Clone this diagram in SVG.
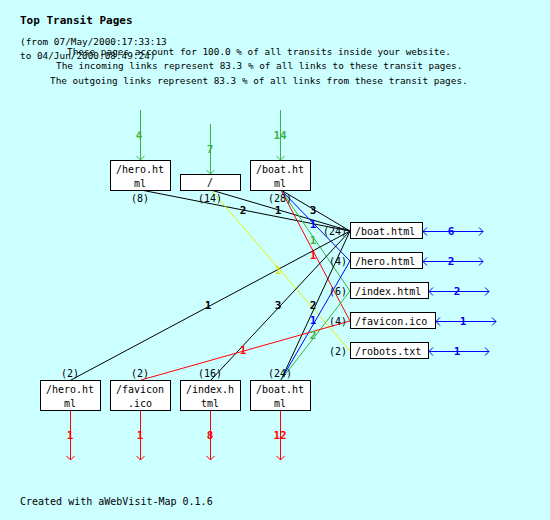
<svg xmlns="http://www.w3.org/2000/svg" width="550" height="520" viewBox="0 0 550 520">
<style>
text{font-family:"DejaVu Sans Mono","Liberation Mono",monospace;font-size:10px;fill:#000}
.hdr{font-size:9.4px}
.title{font-size:11px;font-weight:bold}
.lab{font-size:11px;font-weight:bold;text-anchor:middle}
.c{text-anchor:middle}
.e{text-anchor:end}
.box{fill:#fff;stroke:#000;stroke-width:1}
.ln{fill:none;stroke-width:1}
.k{stroke:#000}.b{stroke:#0000ff}.g{stroke:#3cb43c}.r{stroke:#ff0000}.y{stroke:#eeee00}
.tk{fill:#000}.tb{fill:#0000ff}.tg{fill:#3cb43c}.tr{fill:#ff0000}.ty{fill:#e6e600}
</style>
<defs>
<marker id="mg" markerUnits="userSpaceOnUse" markerWidth="10" markerHeight="10" viewBox="0 0 10 10" refX="5" refY="5" orient="auto-start-reverse"><path d="M1,1 L5,5 L1,9" fill="none" stroke="#3cb43c" stroke-width="1"/></marker>
<marker id="mr" markerUnits="userSpaceOnUse" markerWidth="10" markerHeight="10" viewBox="0 0 10 10" refX="5" refY="5" orient="auto-start-reverse"><path d="M1,1 L5,5 L1,9" fill="none" stroke="#ff0000" stroke-width="1"/></marker>
<marker id="mb" markerUnits="userSpaceOnUse" markerWidth="10" markerHeight="10" viewBox="0 0 10 10" refX="5" refY="5" orient="auto-start-reverse"><path d="M1,1 L5,5 L1,9" fill="none" stroke="#0000ff" stroke-width="1"/></marker>
</defs>
<rect x="0" y="0" width="550" height="520" fill="#ccffff"/>
<g id="header">
<text class="title" x="20" y="24">Top Transit Pages</text>
<text class="hdr" x="20" y="45">(from 07/May/2000:17:33:13</text>
<text class="hdr" x="20" y="59">to 04/Jun/2000:08:49:24)</text>
<text class="hdr" x="67" y="55">These pages account for 100.0 % of all transits inside your website.</text>
<text class="hdr" x="56" y="69">The incoming links represent 83.3 % of all links to these transit pages.</text>
<text class="hdr" x="50" y="84">The outgoing links represent 83.3 % of all links from these transit pages.</text>
</g>
<g id="connectors">
<!-- incoming from outside -->
<line class="ln g" x1="140.5" y1="110" x2="140.5" y2="160" marker-end="url(#mg)"/>
<line class="ln g" x1="210.5" y1="124" x2="210.5" y2="174" marker-end="url(#mg)"/>
<line class="ln g" x1="280.5" y1="110" x2="280.5" y2="160" marker-end="url(#mg)"/>
<!-- outgoing to outside -->
<line class="ln r" x1="70.5" y1="410" x2="70.5" y2="460" marker-end="url(#mr)"/>
<line class="ln r" x1="140.5" y1="410" x2="140.5" y2="460" marker-end="url(#mr)"/>
<line class="ln r" x1="210.5" y1="410" x2="210.5" y2="460" marker-end="url(#mr)"/>
<line class="ln r" x1="280.5" y1="410" x2="280.5" y2="460" marker-end="url(#mr)"/>
<!-- right side double arrows -->
<line class="ln b" x1="423" y1="231.5" x2="483" y2="231.5" marker-start="url(#mb)" marker-end="url(#mb)"/>
<line class="ln b" x1="423" y1="261.5" x2="483" y2="261.5" marker-start="url(#mb)" marker-end="url(#mb)"/>
<line class="ln b" x1="429" y1="291.5" x2="489" y2="291.5" marker-start="url(#mb)" marker-end="url(#mb)"/>
<line class="ln b" x1="436" y1="321.5" x2="496" y2="321.5" marker-start="url(#mb)" marker-end="url(#mb)"/>
<line class="ln b" x1="429" y1="351.5" x2="489" y2="351.5" marker-start="url(#mb)" marker-end="url(#mb)"/>
<!-- transits -->
<line class="ln k" x1="141" y1="190" x2="350" y2="231"/>
<line class="ln k" x1="211" y1="190" x2="350" y2="231"/>
<line class="ln k" x1="281" y1="190" x2="350" y2="231"/>
<line class="ln b" x1="281" y1="190" x2="350" y2="261"/>
<line class="ln g" x1="281" y1="190" x2="350" y2="291"/>
<line class="ln r" x1="281" y1="190" x2="350" y2="321"/>
<line class="ln y" x1="211" y1="190" x2="350" y2="351"/>
<line class="ln k" x1="71" y1="380" x2="350" y2="231"/>
<line class="ln k" x1="211" y1="380" x2="350" y2="231"/>
<line class="ln k" x1="281" y1="380" x2="350" y2="231"/>
<line class="ln b" x1="281" y1="380" x2="350" y2="261"/>
<line class="ln g" x1="281" y1="380" x2="350" y2="291"/>
<line class="ln r" x1="141" y1="380" x2="350" y2="321"/>
<!-- labels -->
<text class="lab tg" x="139" y="139">4</text>
<text class="lab tg" x="210" y="153">7</text>
<text class="lab tg" x="280" y="139">14</text>
<text class="lab tr" x="70" y="439">1</text>
<text class="lab tr" x="140" y="439">1</text>
<text class="lab tr" x="210" y="439">8</text>
<text class="lab tr" x="280" y="439">12</text>
<text class="lab tb" x="451" y="235">6</text>
<text class="lab tb" x="451" y="265">2</text>
<text class="lab tb" x="457" y="295">2</text>
<text class="lab tb" x="463" y="325">1</text>
<text class="lab tb" x="457" y="355">1</text>
<text class="lab tk" x="243" y="214">2</text>
<text class="lab tk" x="278" y="214">1</text>
<text class="lab tk" x="313" y="214">3</text>
<text class="lab tb" x="313" y="228">1</text>
<text class="lab tg" x="313" y="244">1</text>
<text class="lab tr" x="313" y="259">1</text>
<text class="lab ty" x="278" y="274">1</text>
<text class="lab tk" x="208" y="309">1</text>
<text class="lab tk" x="278" y="309">3</text>
<text class="lab tk" x="313" y="309">2</text>
<text class="lab tb" x="313" y="324">1</text>
<text class="lab tg" x="313" y="339">2</text>
<text class="lab tr" x="243" y="354">1</text>
</g>
<g id="src-hero">
<rect class="box" x="110.5" y="160.5" width="60" height="30"/>
<text class="c" x="140" y="173">/hero.ht</text><text class="c" x="140" y="187">ml</text>
<text class="c" x="140" y="202">(8)</text>
</g>
<g id="src-root">
<rect class="box" x="180.5" y="174.5" width="60" height="16"/>
<text class="c" x="210" y="186">/</text>
<text class="c" x="210" y="202">(14)</text>
</g>
<g id="src-boat">
<rect class="box" x="250.5" y="160.5" width="60" height="30"/>
<text class="c" x="280" y="173">/boat.ht</text><text class="c" x="280" y="187">ml</text>
<text class="c" x="280" y="202">(28)</text>
</g>
<g id="dst-boat">
<rect class="box" x="350.5" y="222.5" width="72" height="16"/>
<text x="355" y="235">/boat.html</text>
<text class="e" x="347" y="235">(24)</text>
</g>
<g id="dst-hero">
<rect class="box" x="350.5" y="252.5" width="72" height="16"/>
<text x="355" y="265">/hero.html</text>
<text class="e" x="347" y="265">(4)</text>
</g>
<g id="dst-index">
<rect class="box" x="350.5" y="282.5" width="78" height="16"/>
<text x="355" y="295">/index.html</text>
<text class="e" x="347" y="295">(6)</text>
</g>
<g id="dst-favicon">
<rect class="box" x="350.5" y="312.5" width="85" height="16"/>
<text x="355" y="325">/favicon.ico</text>
<text class="e" x="347" y="325">(4)</text>
</g>
<g id="dst-robots">
<rect class="box" x="350.5" y="342.5" width="78" height="16"/>
<text x="355" y="355">/robots.txt</text>
<text class="e" x="347" y="355">(2)</text>
</g>
<g id="out-hero">
<rect class="box" x="40.5" y="380.5" width="60" height="30"/>
<text class="c" x="70" y="393">/hero.ht</text><text class="c" x="70" y="407">ml</text>
<text class="c" x="70" y="377">(2)</text>
</g>
<g id="out-favicon">
<rect class="box" x="110.5" y="380.5" width="60" height="30"/>
<text class="c" x="140" y="393">/favicon</text><text class="c" x="140" y="407">.ico</text>
<text class="c" x="140" y="377">(2)</text>
</g>
<g id="out-index">
<rect class="box" x="180.5" y="380.5" width="60" height="30"/>
<text class="c" x="210" y="393">/index.h</text><text class="c" x="210" y="407">tml</text>
<text class="c" x="210" y="377">(16)</text>
</g>
<g id="out-boat">
<rect class="box" x="250.5" y="380.5" width="60" height="30"/>
<text class="c" x="280" y="393">/boat.ht</text><text class="c" x="280" y="407">ml</text>
<text class="c" x="280" y="377">(24)</text>
</g>
<text x="20" y="505">Created with aWebVisit-Map 0.1.6</text>
</svg>
